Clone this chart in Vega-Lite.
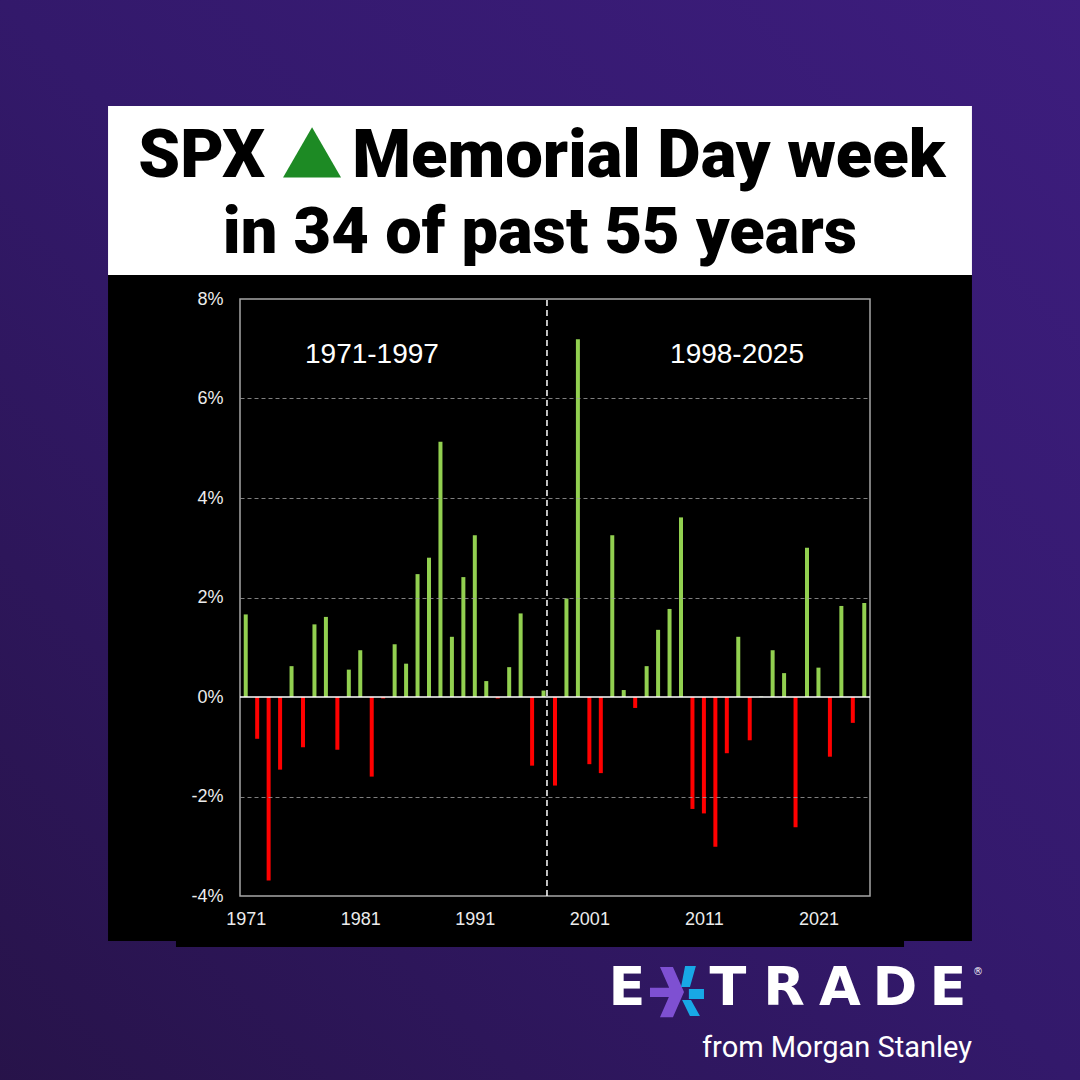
{
  "$schema": "https://vega.github.io/schema/vega-lite/v6.json",
  "width": 630,
  "height": 597,
  "autosize": {"type": "none"},
  "padding": {"left": 240, "top": 299, "right": 210, "bottom": 184},
  "background": "#2c1660",
  "config": {"view": {"stroke": null}},
  "datasets": {
    "one": [{}],
    "spx": [
      {"year": 1971, "ret": 1.66}, {"year": 1972, "ret": -0.84}, {"year": 1973, "ret": -3.69},
      {"year": 1974, "ret": -1.46}, {"year": 1975, "ret": 0.62}, {"year": 1976, "ret": -1.01},
      {"year": 1977, "ret": 1.46}, {"year": 1978, "ret": 1.61}, {"year": 1979, "ret": -1.06},
      {"year": 1980, "ret": 0.55}, {"year": 1981, "ret": 0.94}, {"year": 1982, "ret": -1.6},
      {"year": 1983, "ret": -0.03}, {"year": 1984, "ret": 1.06}, {"year": 1985, "ret": 0.67},
      {"year": 1986, "ret": 2.47}, {"year": 1987, "ret": 2.8}, {"year": 1988, "ret": 5.13},
      {"year": 1989, "ret": 1.21}, {"year": 1990, "ret": 2.41}, {"year": 1991, "ret": 3.25},
      {"year": 1992, "ret": 0.32}, {"year": 1993, "ret": -0.03}, {"year": 1994, "ret": 0.6},
      {"year": 1995, "ret": 1.68}, {"year": 1996, "ret": -1.38}, {"year": 1997, "ret": 0.13},
      {"year": 1998, "ret": -1.78}, {"year": 1999, "ret": 1.98}, {"year": 2000, "ret": 7.19},
      {"year": 2001, "ret": -1.35}, {"year": 2002, "ret": -1.53}, {"year": 2003, "ret": 3.25},
      {"year": 2004, "ret": 0.14}, {"year": 2005, "ret": -0.22}, {"year": 2006, "ret": 0.62},
      {"year": 2007, "ret": 1.35}, {"year": 2008, "ret": 1.77}, {"year": 2009, "ret": 3.61},
      {"year": 2010, "ret": -2.25}, {"year": 2011, "ret": -2.34}, {"year": 2012, "ret": -3.01},
      {"year": 2013, "ret": -1.13}, {"year": 2014, "ret": 1.21}, {"year": 2015, "ret": -0.87},
      {"year": 2016, "ret": 0.01}, {"year": 2017, "ret": 0.94}, {"year": 2018, "ret": 0.48},
      {"year": 2019, "ret": -2.62}, {"year": 2020, "ret": 3.0}, {"year": 2021, "ret": 0.59},
      {"year": 2022, "ret": -1.2}, {"year": 2023, "ret": 1.83}, {"year": 2024, "ret": -0.52},
      {"year": 2025, "ret": 1.89}
    ]
  },
  "layer": [
    {
      "data": {"name": "one"},
      "mark": {"type": "rect", "fill": {"gradient": "linear", "x1": 0, "y1": 1, "x2": 1, "y2": 0, "stops": [{"offset": 0, "color": "#271349"}, {"offset": 0.5, "color": "#33196b"}, {"offset": 1, "color": "#3d1d7e"}]}},
      "encoding": {
        "x": {"datum": 1949, "type": "quantitative", "scale": {"domain": [1970.5, 2025.5], "nice": false, "zero": false, "padding": 0}},
        "x2": {"datum": 2044.5},
        "y": {"datum": -8, "type": "quantitative", "scale": {"domain": [-4, 8], "nice": false, "zero": false, "padding": 0}},
        "y2": {"datum": 14.2}
      }
    },
    {
      "data": {"name": "one"},
      "mark": {"type": "rect", "fill": "#ffffff"},
      "encoding": {
        "x": {"datum": 1958.98, "type": "quantitative", "scale": {"domain": [1970.5, 2025.5], "nice": false, "zero": false, "padding": 0}},
        "x2": {"datum": 2034.4},
        "y": {"datum": 8.48, "type": "quantitative", "scale": {"domain": [-4, 8], "nice": false, "zero": false, "padding": 0}},
        "y2": {"datum": 11.88}
      }
    },
    {
      "data": {"name": "one"},
      "mark": {"type": "rect", "fill": "#000000"},
      "encoding": {
        "x": {"datum": 1958.98, "type": "quantitative", "scale": {"domain": [1970.5, 2025.5], "nice": false, "zero": false, "padding": 0}},
        "x2": {"datum": 2034.4},
        "y": {"datum": -4.905, "type": "quantitative", "scale": {"domain": [-4, 8], "nice": false, "zero": false, "padding": 0}},
        "y2": {"datum": 8.48}
      }
    },
    {
      "data": {"name": "one"},
      "mark": {"type": "rect", "fill": "#000000"},
      "encoding": {
        "x": {"datum": 1964.91, "type": "quantitative", "scale": {"domain": [1970.5, 2025.5], "nice": false, "zero": false, "padding": 0}},
        "x2": {"datum": 2028.47},
        "y": {"datum": -5.025, "type": "quantitative", "scale": {"domain": [-4, 8], "nice": false, "zero": false, "padding": 0}},
        "y2": {"datum": -4.9}
      }
    },
    {
      "data": {"name": "one"},
      "mark": {"type": "text", "text": "SPX", "font": "Roboto", "fontWeight": 900, "fontSize": 67, "align": "right", "baseline": "alphabetic", "color": "#000000"},
      "encoding": {
        "x": {"datum": 1972.68, "type": "quantitative", "scale": {"domain": [1970.5, 2025.5], "nice": false, "zero": false, "padding": 0}},
        "y": {"datum": 10.452, "type": "quantitative", "scale": {"domain": [-4, 8], "nice": false, "zero": false, "padding": 0}}
      }
    },
    {
      "data": {"name": "one"},
      "mark": {"type": "text", "text": "Memorial Day week", "font": "Roboto", "fontWeight": 900, "fontSize": 67, "align": "left", "baseline": "alphabetic", "color": "#000000"},
      "encoding": {
        "x": {"datum": 1980.3, "type": "quantitative", "scale": {"domain": [1970.5, 2025.5], "nice": false, "zero": false, "padding": 0}},
        "y": {"datum": 10.452, "type": "quantitative", "scale": {"domain": [-4, 8], "nice": false, "zero": false, "padding": 0}}
      }
    },
    {
      "data": {"name": "one"},
      "mark": {"type": "text", "text": "in 34 of past 55 years", "font": "Roboto", "fontWeight": 900, "fontSize": 65, "align": "center", "baseline": "alphabetic", "color": "#000000"},
      "encoding": {
        "x": {"datum": 1996.69, "type": "quantitative", "scale": {"domain": [1970.5, 2025.5], "nice": false, "zero": false, "padding": 0}},
        "y": {"datum": 8.925, "type": "quantitative", "scale": {"domain": [-4, 8], "nice": false, "zero": false, "padding": 0}}
      }
    },
    {
      "data": {"name": "one"},
      "mark": {"type": "point", "shape": "triangle-up", "size": 3364, "filled": true, "fill": "#1d8a24", "opacity": 1, "strokeWidth": 0},
      "encoding": {
        "x": {"datum": 1976.79, "type": "quantitative", "scale": {"domain": [1970.5, 2025.5], "nice": false, "zero": false, "padding": 0}},
        "y": {"datum": 10.945, "type": "quantitative", "scale": {"domain": [-4, 8], "nice": false, "zero": false, "padding": 0}}
      }
    },
    {
      "data": {"name": "one"},
      "mark": {"type": "rect", "fillOpacity": 0, "stroke": "#a6a6a6", "strokeWidth": 1.5},
      "encoding": {
        "x": {"datum": 1970.5, "type": "quantitative", "scale": {"domain": [1970.5, 2025.5], "nice": false, "zero": false, "padding": 0}},
        "x2": {"datum": 2025.5},
        "y": {"datum": -4, "type": "quantitative", "scale": {"domain": [-4, 8], "nice": false, "zero": false, "padding": 0}},
        "y2": {"datum": 8}
      }
    },
    {
      "data": {"name": "spx"},
      "mark": {"type": "bar", "size": 4},
      "encoding": {
        "x": {
          "field": "year", "type": "quantitative",
          "scale": {"domain": [1970.5, 2025.5], "nice": false, "zero": false, "padding": 0},
          "axis": {"values": [1971, 1981, 1991, 2001, 2011, 2021], "format": "d", "grid": false, "domain": false, "ticks": false, "labelFlush": false, "labelColor": "#ececec", "labelFont": "Liberation Sans", "labelFontSize": 18, "labelPadding": 14, "title": null, "zindex": 1}
        },
        "y": {
          "field": "ret", "type": "quantitative",
          "scale": {"domain": [-4, 8], "nice": false, "zero": false, "padding": 0},
          "axis": {"values": [-4, -2, 0, 2, 4, 6, 8], "labelExpr": "datum.value + '%'", "grid": true, "gridDash": [4, 3], "gridColor": "#a0a0a0", "gridWidth": 0.8,
            "gridOpacity": {"condition": {"test": "datum.value == 0 || datum.value == 8 || datum.value == -4", "value": 0}, "value": 1},
            "domain": false, "ticks": false, "labelColor": "#ececec", "labelFont": "Liberation Sans", "labelFontSize": 18, "labelPadding": 17, "title": null, "zindex": 1}
        },
        "color": {"condition": {"test": "datum.ret >= 0", "value": "#92d050"}, "value": "#ff0000"}
      }
    },
    {
      "data": {"name": "one"},
      "mark": {"type": "rule", "color": "#ffffff", "strokeWidth": 1.5},
      "encoding": {
        "x": {"datum": 1970.5, "type": "quantitative", "scale": {"domain": [1970.5, 2025.5], "nice": false, "zero": false, "padding": 0}},
        "x2": {"datum": 2025.5},
        "y": {"datum": 0, "type": "quantitative", "scale": {"domain": [-4, 8], "nice": false, "zero": false, "padding": 0}}
      }
    },
    {
      "data": {"name": "one"},
      "mark": {"type": "rule", "color": "#ffffff", "strokeWidth": 1.5, "strokeDash": [6, 4]},
      "encoding": {
        "x": {"datum": 1997.3, "type": "quantitative", "scale": {"domain": [1970.5, 2025.5], "nice": false, "zero": false, "padding": 0}},
        "y": {"datum": -4, "type": "quantitative", "scale": {"domain": [-4, 8], "nice": false, "zero": false, "padding": 0}},
        "y2": {"datum": 8}
      }
    },
    {
      "data": {"name": "one"},
      "mark": {"type": "text", "text": "1971-1997", "font": "Liberation Sans", "fontSize": 28, "align": "center", "baseline": "alphabetic", "color": "#ffffff"},
      "encoding": {
        "x": {"datum": 1982.02, "type": "quantitative", "scale": {"domain": [1970.5, 2025.5], "nice": false, "zero": false, "padding": 0}},
        "y": {"datum": 6.714, "type": "quantitative", "scale": {"domain": [-4, 8], "nice": false, "zero": false, "padding": 0}}
      }
    },
    {
      "data": {"name": "one"},
      "mark": {"type": "text", "text": "1998-2025", "font": "Liberation Sans", "fontSize": 28, "align": "center", "baseline": "alphabetic", "color": "#ffffff"},
      "encoding": {
        "x": {"datum": 2013.89, "type": "quantitative", "scale": {"domain": [1970.5, 2025.5], "nice": false, "zero": false, "padding": 0}},
        "y": {"datum": 6.714, "type": "quantitative", "scale": {"domain": [-4, 8], "nice": false, "zero": false, "padding": 0}}
      }
    },
    {
      "data": {"name": "one"},
      "mark": {"type": "text", "text": "E", "font": "DejaVu Sans", "fontWeight": "bold", "fontSize": 54, "align": "center", "baseline": "alphabetic", "color": "#ffffff"},
      "encoding": {
        "x": {"datum": 2004.29, "type": "quantitative", "scale": {"domain": [1970.5, 2025.5], "nice": false, "zero": false, "padding": 0}},
        "y": {"datum": -6.191, "type": "quantitative", "scale": {"domain": [-4, 8], "nice": false, "zero": false, "padding": 0}}
      }
    },
    {
      "data": {"name": "one"},
      "mark": {"type": "point", "shape": "M-0.63,-0.93L-0.15,-0.93L0.26,0L-0.15,0.93L-0.63,0.93L-0.22,0ZM-1,-0.16L0.05,-0.16L0.05,0.18L-1,0.18Z", "size": 2916, "filled": true, "fill": "#7e50d2", "opacity": 1, "strokeWidth": 0},
      "encoding": {
        "x": {"datum": 2008.65, "type": "quantitative", "scale": {"domain": [1970.5, 2025.5], "nice": false, "zero": false, "padding": 0}},
        "y": {"datum": -5.93, "type": "quantitative", "scale": {"domain": [-4, 8], "nice": false, "zero": false, "padding": 0}}
      }
    },
    {
      "data": {"name": "one"},
      "mark": {"type": "point", "shape": "M0.3,-0.96L0.7,-0.96L0.48,-0.19L0.15,-0.19ZM0.44,-0.11L1,-0.11L1,0.26L0.44,0.26ZM0.19,0.3L0.52,0.3L0.85,0.89L0.48,0.89Z", "size": 2916, "filled": true, "fill": "#18a8e6", "opacity": 1, "strokeWidth": 0},
      "encoding": {
        "x": {"datum": 2008.65, "type": "quantitative", "scale": {"domain": [1970.5, 2025.5], "nice": false, "zero": false, "padding": 0}},
        "y": {"datum": -5.93, "type": "quantitative", "scale": {"domain": [-4, 8], "nice": false, "zero": false, "padding": 0}}
      }
    },
    {
      "data": {"name": "one"},
      "mark": {"type": "text", "text": "T", "font": "DejaVu Sans", "fontWeight": "bold", "fontSize": 54, "align": "center", "baseline": "alphabetic", "color": "#ffffff"},
      "encoding": {
        "x": {"datum": 2013.1, "type": "quantitative", "scale": {"domain": [1970.5, 2025.5], "nice": false, "zero": false, "padding": 0}},
        "y": {"datum": -6.191, "type": "quantitative", "scale": {"domain": [-4, 8], "nice": false, "zero": false, "padding": 0}}
      }
    },
    {
      "data": {"name": "one"},
      "mark": {"type": "text", "text": "R", "font": "DejaVu Sans", "fontWeight": "bold", "fontSize": 54, "align": "center", "baseline": "alphabetic", "color": "#ffffff"},
      "encoding": {
        "x": {"datum": 2017.99, "type": "quantitative", "scale": {"domain": [1970.5, 2025.5], "nice": false, "zero": false, "padding": 0}},
        "y": {"datum": -6.191, "type": "quantitative", "scale": {"domain": [-4, 8], "nice": false, "zero": false, "padding": 0}}
      }
    },
    {
      "data": {"name": "one"},
      "mark": {"type": "text", "text": "A", "font": "DejaVu Sans", "fontWeight": "bold", "fontSize": 54, "align": "center", "baseline": "alphabetic", "color": "#ffffff"},
      "encoding": {
        "x": {"datum": 2022.88, "type": "quantitative", "scale": {"domain": [1970.5, 2025.5], "nice": false, "zero": false, "padding": 0}},
        "y": {"datum": -6.191, "type": "quantitative", "scale": {"domain": [-4, 8], "nice": false, "zero": false, "padding": 0}}
      }
    },
    {
      "data": {"name": "one"},
      "mark": {"type": "text", "text": "D", "font": "DejaVu Sans", "fontWeight": "bold", "fontSize": 54, "align": "center", "baseline": "alphabetic", "color": "#ffffff"},
      "encoding": {
        "x": {"datum": 2027.68, "type": "quantitative", "scale": {"domain": [1970.5, 2025.5], "nice": false, "zero": false, "padding": 0}},
        "y": {"datum": -6.191, "type": "quantitative", "scale": {"domain": [-4, 8], "nice": false, "zero": false, "padding": 0}}
      }
    },
    {
      "data": {"name": "one"},
      "mark": {"type": "text", "text": "E", "font": "DejaVu Sans", "fontWeight": "bold", "fontSize": 54, "align": "center", "baseline": "alphabetic", "color": "#ffffff"},
      "encoding": {
        "x": {"datum": 2032.31, "type": "quantitative", "scale": {"domain": [1970.5, 2025.5], "nice": false, "zero": false, "padding": 0}},
        "y": {"datum": -6.191, "type": "quantitative", "scale": {"domain": [-4, 8], "nice": false, "zero": false, "padding": 0}}
      }
    },
    {
      "data": {"name": "one"},
      "mark": {"type": "text", "text": "®", "font": "DejaVu Sans", "fontSize": 10, "align": "center", "baseline": "middle", "color": "#ffffff"},
      "encoding": {
        "x": {"datum": 2034.93, "type": "quantitative", "scale": {"domain": [1970.5, 2025.5], "nice": false, "zero": false, "padding": 0}},
        "y": {"datum": -5.528, "type": "quantitative", "scale": {"domain": [-4, 8], "nice": false, "zero": false, "padding": 0}}
      }
    },
    {
      "data": {"name": "one"},
      "mark": {"type": "text", "text": "from Morgan Stanley", "font": "Roboto", "fontSize": 29, "align": "right", "baseline": "alphabetic", "color": "#ffffff"},
      "encoding": {
        "x": {"datum": 2034.4, "type": "quantitative", "scale": {"domain": [1970.5, 2025.5], "nice": false, "zero": false, "padding": 0}},
        "y": {"datum": -7.236, "type": "quantitative", "scale": {"domain": [-4, 8], "nice": false, "zero": false, "padding": 0}}
      }
    }
  ]
}
